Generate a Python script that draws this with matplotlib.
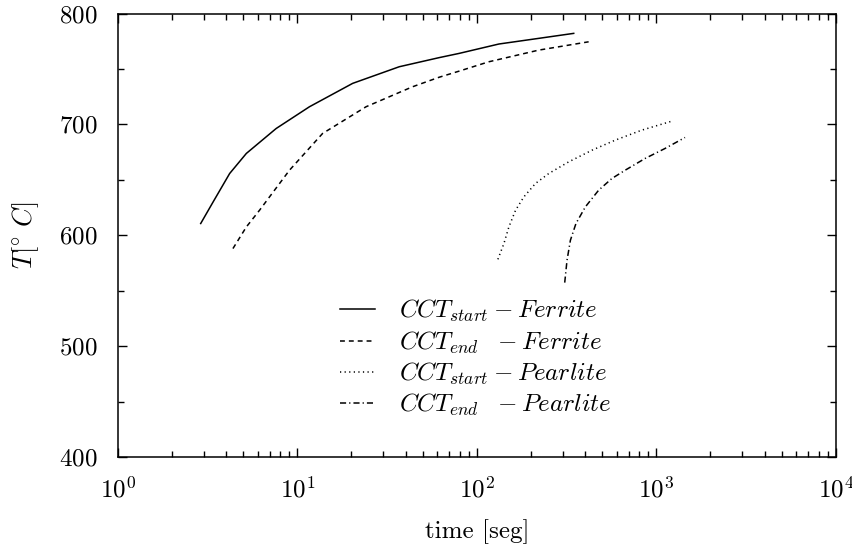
import matplotlib
matplotlib.use("Agg")
import matplotlib.pyplot as plt
from matplotlib.ticker import LogLocator, MultipleLocator, NullFormatter

plt.rcParams['font.family'] = 'serif'
plt.rcParams['font.serif'] = ['cmr10']
plt.rcParams['mathtext.fontset'] = 'cm'
plt.rcParams['axes.formatter.use_mathtext'] = True
plt.rcParams['axes.unicode_minus'] = False

# Data
t_fs = [2.89, 3.39, 4.19, 5.19, 7.61, 11.66, 20.3, 36.9, 61.5, 79.4, 132.5, 221, 346]
T_fs = [610.6, 630.1, 655.7, 673.8, 696.3, 715.9, 737.0, 752.0, 760.2, 764.0, 772.5, 777.6, 782.1]

t_fe = [4.37, 5.19, 6.15, 9.03, 13.8, 24.1, 43.7, 61.5, 79.4, 116.6, 221, 419]
T_fe = [588.0, 607.5, 622.6, 658.7, 691.8, 715.9, 733.9, 742.5, 748.0, 756.5, 767.0, 774.5]

t_ps = [130.8, 141.3, 150.6, 164.1, 182.5, 211.8, 251.2, 324.4, 437.1, 589.7, 828, 1217]
T_ps = [578.3, 592.5, 607.5, 622.6, 634.6, 646.7, 655.7, 666.2, 676.7, 685.8, 694.8, 702.9]

t_pe = [308.3, 317.5, 331.6, 356.1, 401.8, 476.1, 564.6, 669.9, 865.2, 1117, 1443]
T_pe = [557.3, 577.4, 595.5, 610.6, 625.6, 640.6, 651.2, 658.7, 669.3, 678.3, 688.2]

labels = [r'$CCT_{start}-Ferrite$', r'$CCT_{end}\ \ -Ferrite$',
          r'$CCT_{start}-Pearlite$', r'$CCT_{end}\ \ -Pearlite$']

fig = plt.figure(figsize=(8.53, 5.52), dpi=100)
ax = fig.add_axes([0.1383, 0.1721, 0.8417, 0.8034])

lw = 1.1
ax.plot(t_fs, T_fs, color='black', lw=lw, ls='-', label=labels[0])
ax.plot(t_fe, T_fe, color='black', lw=lw, ls=(0, (3.2, 2.6)), label=labels[1])
ax.plot(t_ps, T_ps, color='black', lw=lw, ls=(0, (0.8, 2.2)), label=labels[2])
ax.plot(t_pe, T_pe, color='black', lw=lw, ls=(0, (4, 2, 0.8, 2)), label=labels[3])

ax.set_xscale('log')
ax.set_xlim(1, 1e4)
ax.set_ylim(400, 800)
ax.xaxis.set_major_locator(LogLocator(base=10, numticks=10))
ax.xaxis.set_minor_locator(LogLocator(base=10, subs=range(2, 10), numticks=20))
ax.xaxis.set_minor_formatter(NullFormatter())
ax.yaxis.set_major_locator(MultipleLocator(100))
ax.yaxis.set_minor_locator(MultipleLocator(50))

ax.tick_params(which='both', direction='in', top=True, right=True, labelsize=18, width=1.0)
ax.tick_params(which='major', length=6.5)
ax.tick_params(which='minor', length=4)
ax.tick_params(axis='x', which='major', pad=14)
ax.tick_params(axis='y', which='major', pad=15)
for s in ax.spines.values():
    s.set_linewidth(1.1)

ax.set_xlabel('time [seg]', fontsize=18, labelpad=12)
ax.set_ylabel(r'$T[^{\circ}\ C]$', fontsize=19, labelpad=13)

leg = ax.legend(loc='center', bbox_to_anchor=(0.498, 0.223), frameon=False,
                fontsize=18, handlelength=1.4, labelspacing=0.2, handletextpad=0.95)

fig.savefig('out.png', dpi=100)
